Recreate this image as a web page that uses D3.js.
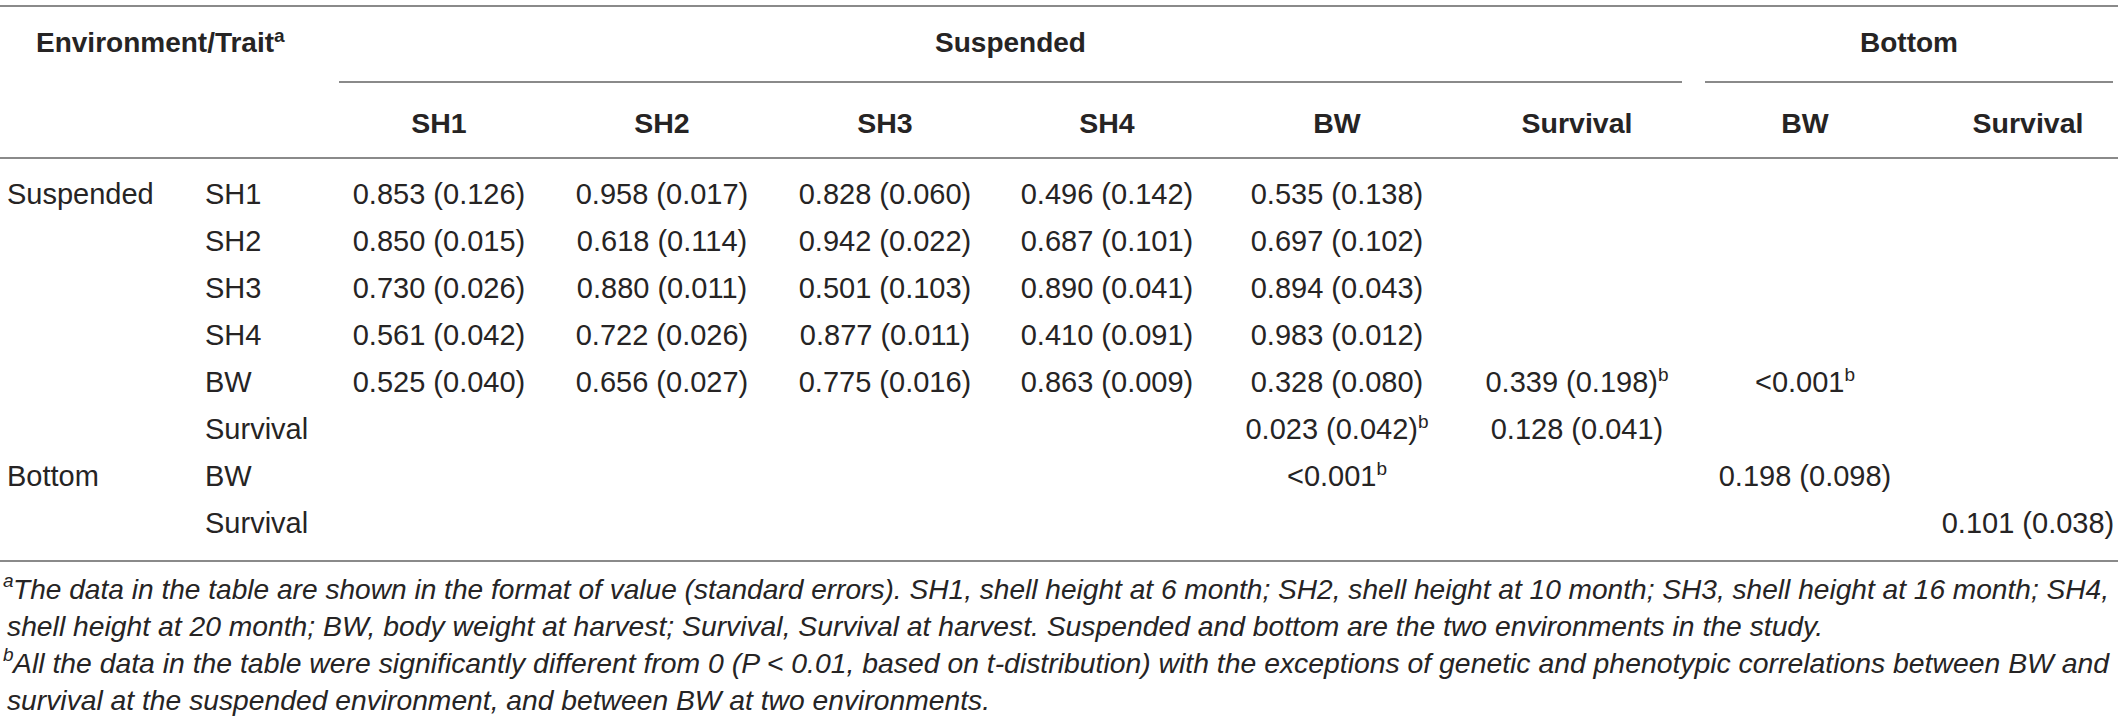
<!DOCTYPE html>
<html><head><meta charset="utf-8">
<script src="https://cdn.jsdelivr.net/npm/d3@7"></script>
<style>
html,body{margin:0;padding:0;background:#fff;}
svg{display:block;}
text{font-family:"Liberation Sans",Arial,Helvetica,sans-serif;fill:#262424;}
</style></head>
<body>
<svg id="chart" width="2118" height="723"></svg>
<script>
// ---- data ----
const groupNames = ["Suspended", "Bottom"];
const groupFirstCol = [0, 6];
const groupLastCol = [5, 7];
const colLabels = ["SH1", "SH2", "SH3", "SH4", "BW", "Survival", "BW", "Survival"];
const rowEnv = ["Suspended", "", "", "", "", "", "Bottom", ""];
const rowTrait = ["SH1", "SH2", "SH3", "SH4", "BW", "Survival", "BW", "Survival"];
const estimates = [
  ["0.853", "0.958", "0.828", "0.496", "0.535", null, null, null],
  ["0.850", "0.618", "0.942", "0.687", "0.697", null, null, null],
  ["0.730", "0.880", "0.501", "0.890", "0.894", null, null, null],
  ["0.561", "0.722", "0.877", "0.410", "0.983", null, null, null],
  ["0.525", "0.656", "0.775", "0.863", "0.328", "0.339", "<0.001", null],
  [null, null, null, null, "0.023", "0.128", null, null],
  [null, null, null, null, "<0.001", null, "0.198", null],
  [null, null, null, null, null, null, null, "0.101"]
];
const stdErrors = [
  ["0.126", "0.017", "0.060", "0.142", "0.138", null, null, null],
  ["0.015", "0.114", "0.022", "0.101", "0.102", null, null, null],
  ["0.026", "0.011", "0.103", "0.041", "0.043", null, null, null],
  ["0.042", "0.026", "0.011", "0.091", "0.012", null, null, null],
  ["0.040", "0.027", "0.016", "0.009", "0.080", "0.198", null, null],
  [null, null, null, null, "0.042", "0.041", null, null],
  [null, null, null, null, null, null, "0.098", null],
  [null, null, null, null, null, null, null, "0.038"]
];
const noteB = [[4, 5], [4, 6], [5, 4], [6, 4]];
const headerTitle = "Environment/Trait";
const footnoteSups = ["a", "", "b", ""];
const footnoteTexts = [
  "The data in the table are shown in the format of value (standard errors). SH1, shell height at 6 month; SH2, shell height at 10 month; SH3, shell height at 16 month; SH4,",
  "shell height at 20 month; BW, body weight at harvest; Survival, Survival at harvest. Suspended and bottom are the two environments in the study.",
  "All the data in the table were significantly different from 0 (P < 0.01, based on t-distribution) with the exceptions of genetic and phenotypic correlations between BW and",
  "survival at the suspended environment, and between BW at two environments."
];

// ---- layout ----
const W = 2118, H = 723;
const svg = d3.select("#chart");
svg.append("rect").attr("width", W).attr("height", H).attr("fill", "#fff");

const x = d3.scaleOrdinal().domain(d3.range(8)).range([439, 662, 885, 1107, 1337, 1577, 1805, 2028]);
const y = d3.scaleLinear().domain([0, 7]).range([204, 533]);
const fs = 29;
const ruleColor = "#8a8a8a";

// full-width rules
const ruleY = [6, 158, 561];
svg.selectAll("line.rule").data(ruleY).join("line").attr("class", "rule")
  .attr("x1", 0).attr("x2", W).attr("y1", d => d).attr("y2", d => d)
  .attr("stroke", ruleColor).attr("stroke-width", 2);

// group underlines (spanning their columns)
const gx1 = [339, 1705], gx2 = [1682, 2113];
svg.selectAll("line.grp").data(groupNames).join("line").attr("class", "grp")
  .attr("x1", (d, i) => gx1[i]).attr("x2", (d, i) => gx2[i]).attr("y1", 82).attr("y2", 82)
  .attr("stroke", ruleColor).attr("stroke-width", 2);

// header row 1
const h1 = svg.append("text").attr("x", 36).attr("y", 52)
  .attr("font-size", 28).attr("font-weight", "bold");
h1.append("tspan").text(headerTitle);
h1.append("tspan").attr("font-size", 19).attr("dy", -10).text("a");

svg.selectAll("text.grp").data(groupNames).join("text").attr("class", "grp")
  .attr("x", (d, i) => (gx1[i] + gx2[i]) / 2).attr("y", 52)
  .attr("text-anchor", "middle").attr("font-size", 28).attr("font-weight", "bold")
  .text(d => d);

// header row 2
svg.selectAll("text.col").data(colLabels).join("text").attr("class", "col")
  .attr("x", (d, i) => x(i)).attr("y", 133)
  .attr("text-anchor", "middle").attr("font-size", 28.5).attr("font-weight", "bold")
  .text(d => d);

// row labels
svg.selectAll("text.env").data(rowEnv).join("text").attr("class", "env")
  .attr("x", 7).attr("y", (d, i) => y(i)).attr("font-size", fs).text(d => d);
svg.selectAll("text.trait").data(rowTrait).join("text").attr("class", "trait")
  .attr("x", 205).attr("y", (d, i) => y(i)).attr("font-size", fs).text(d => d);

// cells
const cells = [];
estimates.forEach((row, r) => row.forEach((v, c) => {
  if (v !== null) {
    const s = stdErrors[r][c];
    const hasB = noteB.some(p => p[0] === r && p[1] === c);
    cells.push({r, c, label: s ? `${v} (${s})` : v, b: hasB});
  }
}));
const cellSel = svg.selectAll("text.cell").data(cells).join("text").attr("class", "cell")
  .attr("x", d => x(d.c)).attr("y", d => y(d.r))
  .attr("text-anchor", "middle").attr("font-size", fs);
cellSel.append("tspan").text(d => d.label);
cellSel.filter(d => d.b).append("tspan").attr("font-size", 19).attr("dy", -11).text("b");

// footnotes
const fnBase = [599, 636, 673, 710];
const fnEnd = [2109, 1823, 2109, 990];
footnoteTexts.forEach((t, i) => {
  const sx = footnoteSups[i] ? 13 : 7;
  if (footnoteSups[i]) {
    svg.append("text").attr("x", 3).attr("y", fnBase[i] - 12)
      .attr("font-size", 19).attr("font-style", "italic").text(footnoteSups[i]);
  }
  svg.append("text").attr("x", sx).attr("y", fnBase[i])
    .attr("font-size", 28).attr("font-style", "italic")
    .attr("textLength", fnEnd[i] - sx).attr("lengthAdjust", "spacingAndGlyphs")
    .text(t);
});
</script>
</body></html>
